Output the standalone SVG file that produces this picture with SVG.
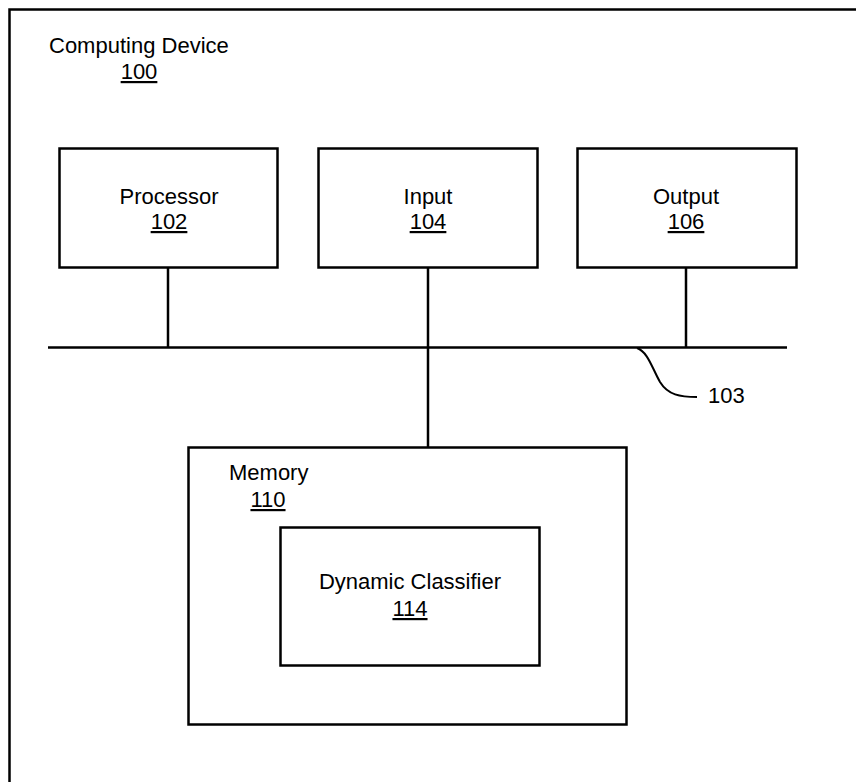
<svg xmlns="http://www.w3.org/2000/svg" width="856" height="782" viewBox="0 0 856 782">
  <style>
    .box { fill: #ffffff; stroke: #000000; stroke-width: 2.5; }
    .wire { fill: none; stroke: #000000; stroke-width: 2.5; }
    .lead { fill: none; stroke: #000000; stroke-width: 2; }
    text { font-family: "Liberation Sans", Arial, sans-serif; font-size: 22px; fill: #000000; }
    .c { text-anchor: middle; }
    .ref { text-decoration: underline; }
  </style>
  <rect width="856" height="782" fill="#ffffff"/>

  <!-- enclosing device frame (runs off the right and bottom edges) -->
  <g id="device">
    <rect class="box" x="9.5" y="9.5" width="880" height="800"/>
    <text x="49" y="53">Computing Device</text>
    <text class="c ref" x="139" y="79">100</text>
  </g>

  <!-- bus and stubs -->
  <g id="connectors">
    <line class="wire" x1="48" y1="347.5" x2="787" y2="347.5"/>
    <line class="wire" x1="168" y1="267" x2="168" y2="347.5"/>
    <line class="wire" x1="428" y1="267" x2="428" y2="447"/>
    <line class="wire" x1="686" y1="267" x2="686" y2="347.5"/>
    <path class="lead" d="M637,348 C648,352 652,368 660,382 C668,395 680,397 697,397"/>
  </g>

  <g id="bus-label">
    <text x="708" y="403">103</text>
  </g>

  <g id="processor">
    <rect class="box" x="59.5" y="148.5" width="218" height="119"/>
    <text class="c" x="169" y="204">Processor</text>
    <text class="c ref" x="169" y="229">102</text>
  </g>

  <g id="input">
    <rect class="box" x="318.5" y="148.5" width="219" height="119"/>
    <text class="c" x="428" y="204">Input</text>
    <text class="c ref" x="428" y="229">104</text>
  </g>

  <g id="output">
    <rect class="box" x="577.5" y="148.5" width="219" height="119"/>
    <text class="c" x="686" y="204">Output</text>
    <text class="c ref" x="686" y="229">106</text>
  </g>

  <g id="memory">
    <rect class="box" x="188.5" y="447.5" width="438" height="277"/>
    <text x="229" y="480">Memory</text>
    <text class="c ref" x="268" y="507">110</text>
  </g>

  <g id="classifier">
    <rect class="box" x="280.5" y="527.5" width="259" height="138"/>
    <text class="c" x="410" y="589">Dynamic Classifier</text>
    <text class="c ref" x="410" y="616">114</text>
  </g>
</svg>
